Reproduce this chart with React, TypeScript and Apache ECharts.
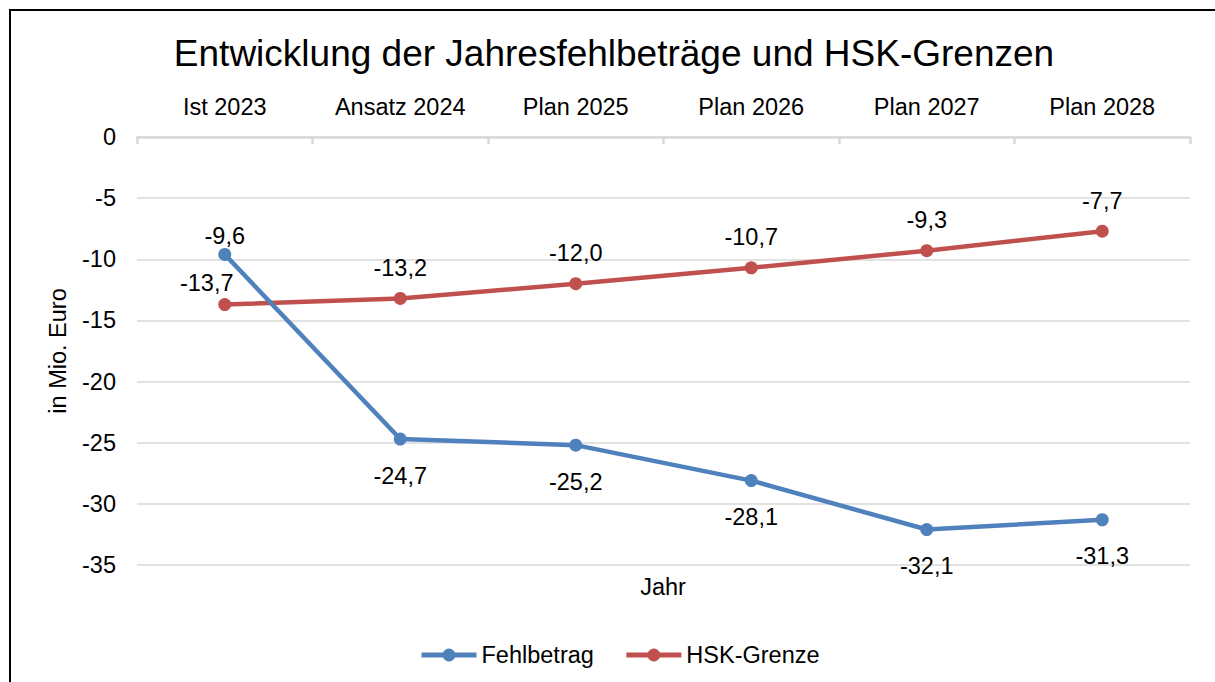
import React, { useEffect, useRef } from "react";
import * as echarts from "echarts";

const categories = ["Ist 2023", "Ansatz 2024", "Plan 2025", "Plan 2026", "Plan 2027", "Plan 2028"];
const fehlbetrag = [-9.6, -24.7, -25.2, -28.1, -32.1, -31.3];
const hskGrenze = [-13.7, -13.2, -12.0, -10.7, -9.3, -7.7];
const yMin = -35;
const yMax = 0;
const yStep = 5;

const FONT = "'Liberation Sans', Arial, sans-serif";
const fmt = (v: number) => v.toFixed(1).replace(".", ",");

export default function App() {
  const ref = useRef<HTMLDivElement>(null);
  useEffect(() => {
    document.body.style.margin = "0";
    if (!ref.current) return;
    const chart = echarts.init(ref.current, undefined, { renderer: "svg" });
    const labelBase = { show: true, fontSize: 23.5, color: "#000", fontFamily: FONT, formatter: (p: any) => fmt(p.value) };
    chart.setOption({
      animation: false,
      textStyle: { fontFamily: FONT },
      grid: { left: 137, right: 25, top: 137, bottom: 117 },
      legend: {
        left: 414,
        top: 638,
        itemWidth: 55,
        itemHeight: 16,
        itemGap: 30,
        lineStyle: { width: 5 },
        textStyle: { fontSize: 23.5, color: "#000", fontFamily: FONT },
        data: ["Fehlbetrag", "HSK-Grenze"],
      },
      graphic: [
        {
          type: "rect",
          shape: { x: 10, y: 10, width: 1300, height: 800 },
          style: { fill: "none", stroke: "#000", lineWidth: 2 },
          silent: true,
        },
        {
          type: "text",
          x: 614,
          y: 53,
          style: { text: "Entwicklung der Jahresfehlbeträge und HSK-Grenzen", fontSize: 37, fill: "#000", fontFamily: FONT, textAlign: "center", textVerticalAlign: "middle" },
        },
        {
          type: "text",
          x: 663,
          y: 587,
          style: { text: "Jahr", fontSize: 23.5, fill: "#000", fontFamily: FONT, textAlign: "center", textVerticalAlign: "middle" },
        },
      ],
      xAxis: {
        type: "category",
        position: "top",
        data: categories,
        boundaryGap: true,
        axisLine: { lineStyle: { color: "#d9d9d9", width: 2.5 } },
        axisTick: { show: true, inside: true, length: 7, lineStyle: { color: "#d9d9d9", width: 2.5 } },
        axisLabel: { fontSize: 23.5, color: "#000", margin: 18, fontFamily: FONT },
        splitLine: { show: false },
      },
      yAxis: {
        type: "value",
        min: yMin,
        max: yMax,
        interval: yStep,
        name: "in Mio. Euro",
        nameLocation: "middle",
        nameGap: 67,
        nameRotate: 90,
        nameTextStyle: { fontSize: 23.5, color: "#000", fontFamily: FONT },
        axisLine: { show: false },
        axisTick: { show: false },
        axisLabel: { fontSize: 23.5, color: "#000", margin: 21, fontFamily: FONT },
        splitLine: { lineStyle: { color: "#d9d9d9", width: 1.5 } },
      },
      series: [
        {
          name: "Fehlbetrag",
          type: "line",
          symbol: "circle",
          symbolSize: 13,
          lineStyle: { color: "#4F81BD", width: 4.5 },
          itemStyle: { color: "#4F81BD" },
          label: { ...labelBase, position: "bottom", distance: 18 },
          data: fehlbetrag.map((v, i) =>
            i === 0 ? { value: v, label: { position: "top", distance: 0 } } : v
          ),
          z: 3,
        },
        {
          name: "HSK-Grenze",
          type: "line",
          symbol: "circle",
          symbolSize: 13,
          lineStyle: { color: "#C0504D", width: 4.5 },
          itemStyle: { color: "#C0504D" },
          label: { ...labelBase, position: "top", distance: 12 },
          data: hskGrenze.map((v, i) =>
            i === 0 ? { value: v, label: { position: "top", distance: 3, offset: [-18, 0] } } : v
          ),
          z: 2,
        },
      ],
    });
    return () => chart.dispose();
  }, []);
  return <div ref={ref} style={{ width: 1215, height: 682 }} />;
}
